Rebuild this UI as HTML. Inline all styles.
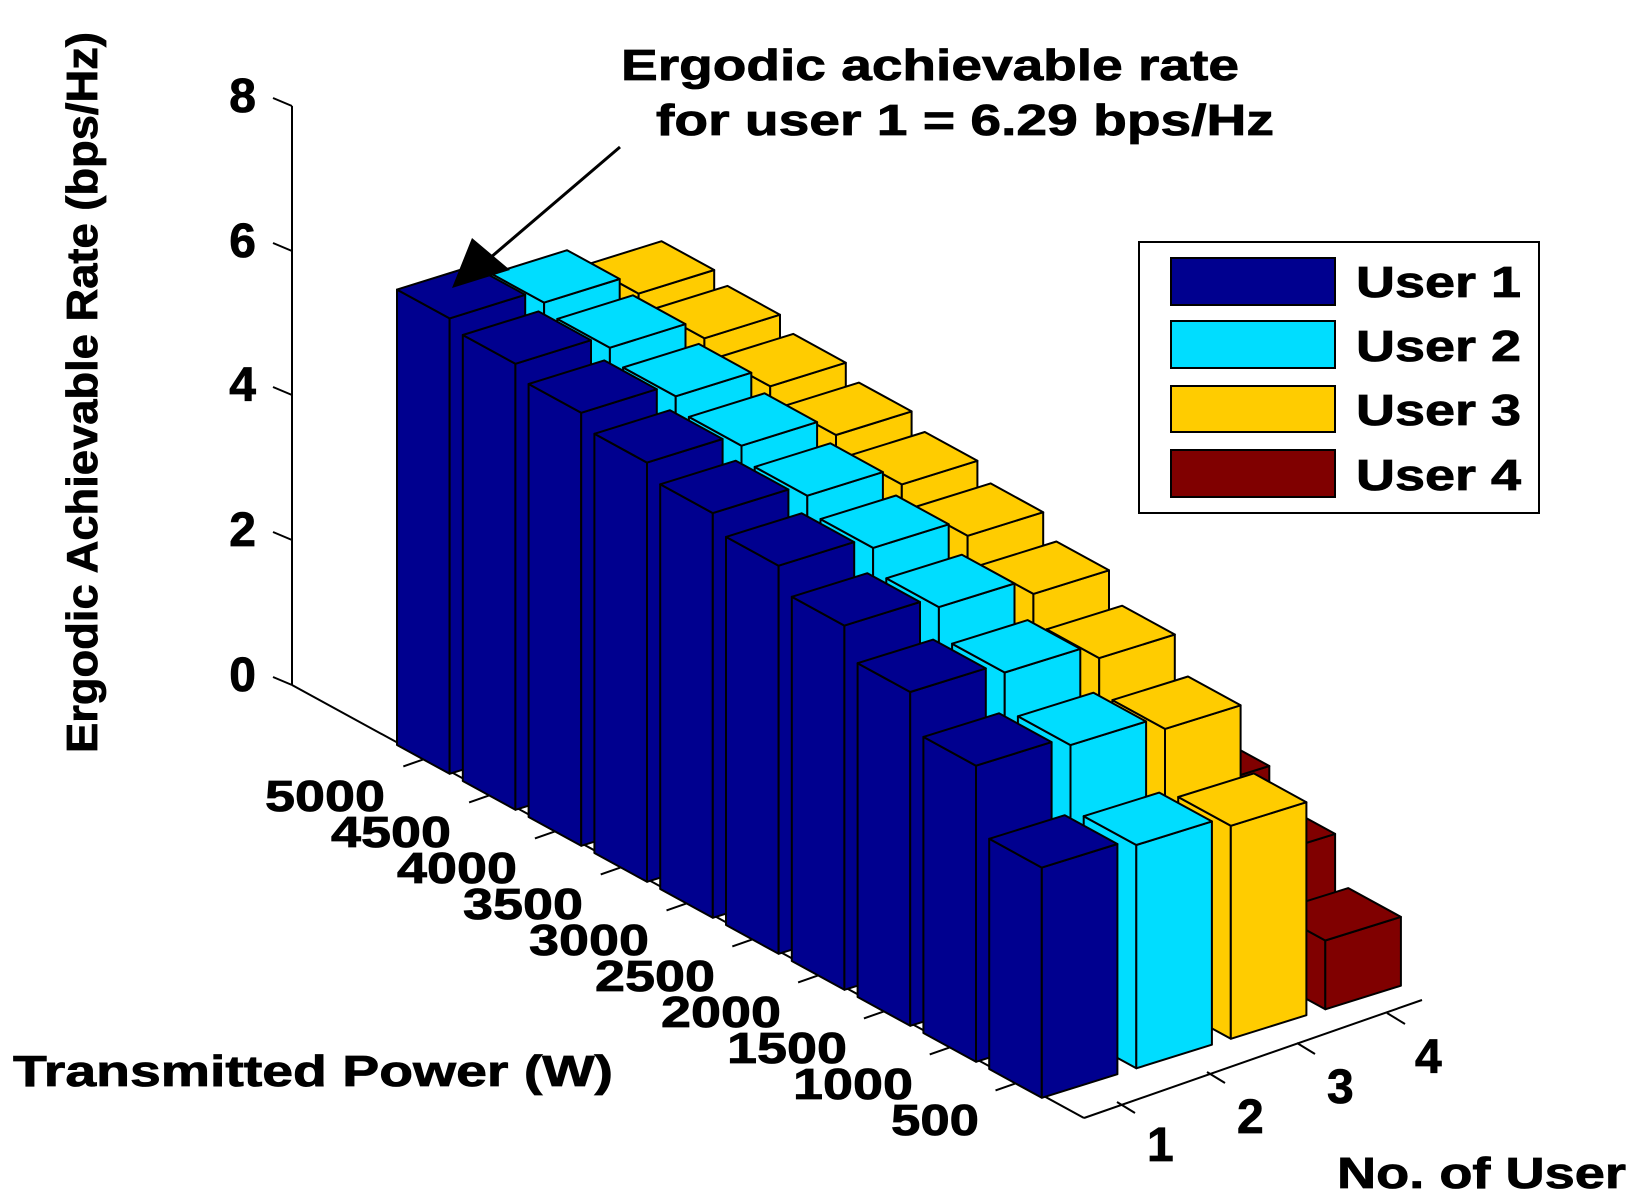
<!DOCTYPE html>
<html><head><meta charset="utf-8"><style>
html,body{margin:0;padding:0;background:#fff;}
svg{display:block;}
text{font-family:"Liberation Sans",Arial,sans-serif;font-weight:bold;fill:#000;stroke:#000;stroke-width:0.8;}
</style></head><body>
<svg id="s" xmlns="http://www.w3.org/2000/svg" width="1642" height="1204" viewBox="0 0 1642 1204">
<rect width="1642" height="1204" fill="#fff"/>
<g stroke="#000" stroke-width="2" fill="none">
<line x1="292" y1="106" x2="292" y2="685"/>
<line x1="292" y1="685" x2="1084" y2="1118"/>
<line x1="1084" y1="1118" x2="1422" y2="1000"/>
<line x1="292" y1="106" x2="273" y2="98"/>
<line x1="292" y1="251" x2="273" y2="243"/>
<line x1="292" y1="395" x2="273" y2="387"/>
<line x1="292" y1="540" x2="273" y2="532"/>
<line x1="292" y1="685" x2="273" y2="677"/>
<line x1="1117" y1="1102" x2="1135" y2="1113"/>
<line x1="1207" y1="1072" x2="1225" y2="1083"/>
<line x1="1297" y1="1043" x2="1315" y2="1054"/>
<line x1="1387" y1="1013" x2="1405" y2="1024"/>
</g>
<g id="pt" stroke="#000" stroke-width="2"></g>
<g id="bars" stroke="#000" stroke-width="2" stroke-linejoin="round"></g>
<g font-size="48" text-anchor="end">
<text x="256" y="112">8</text>
<text x="256" y="257">6</text>
<text x="256" y="401">4</text>
<text x="256" y="546">2</text>
<text x="256" y="691">0</text>
</g>
<g font-size="44" text-anchor="end">
<text x="385" y="811" textLength="120" lengthAdjust="spacingAndGlyphs">5000</text>
<text x="451" y="847" textLength="120" lengthAdjust="spacingAndGlyphs">4500</text>
<text x="517" y="883" textLength="120" lengthAdjust="spacingAndGlyphs">4000</text>
<text x="583" y="919" textLength="120" lengthAdjust="spacingAndGlyphs">3500</text>
<text x="649" y="955" textLength="120" lengthAdjust="spacingAndGlyphs">3000</text>
<text x="715" y="991" textLength="120" lengthAdjust="spacingAndGlyphs">2500</text>
<text x="781" y="1027" textLength="120" lengthAdjust="spacingAndGlyphs">2000</text>
<text x="847" y="1063" textLength="120" lengthAdjust="spacingAndGlyphs">1500</text>
<text x="913" y="1099" textLength="120" lengthAdjust="spacingAndGlyphs">1000</text>
<text x="979" y="1135" textLength="88" lengthAdjust="spacingAndGlyphs">500</text>
</g>
<g font-size="48">
<text x="1147" y="1161">1</text>
<text x="1237" y="1133">2</text>
<text x="1327" y="1103">3</text>
<text x="1415" y="1073">4</text>
</g>
<text x="13" y="1086" font-size="44" textLength="600" lengthAdjust="spacingAndGlyphs">Transmitted Power (W)</text>
<text x="1337" y="1188" font-size="44" textLength="289" lengthAdjust="spacingAndGlyphs">No. of User</text>
<text transform="translate(97,753) rotate(-90)" font-size="44" textLength="721" lengthAdjust="spacingAndGlyphs">Ergodic Achievable Rate (bps/Hz)</text>
<text x="621" y="80" font-size="44" textLength="618" lengthAdjust="spacingAndGlyphs">Ergodic achievable rate</text>
<text x="656" y="135" font-size="44" textLength="618" lengthAdjust="spacingAndGlyphs">for user 1 = 6.29 bps/Hz</text>
<line x1="620" y1="147" x2="490" y2="258" stroke="#000" stroke-width="3"/>
<polygon points="472,238 452,288 510,270" fill="#000"/>
<rect x="1139" y="242" width="400" height="271" fill="#fff" stroke="#000" stroke-width="2"/>
<g stroke="#000" stroke-width="2">
<rect x="1171" y="258" width="164" height="47" fill="#00008F"/>
<rect x="1171" y="321" width="164" height="47" fill="#00DDFF"/>
<rect x="1171" y="386" width="164" height="46" fill="#FFCC00"/>
<rect x="1171" y="450" width="164" height="47" fill="#800000"/>
</g>
<g font-size="44">
<text x="1356" y="297" textLength="165" lengthAdjust="spacingAndGlyphs">User 1</text>
<text x="1356" y="361" textLength="165" lengthAdjust="spacingAndGlyphs">User 2</text>
<text x="1356" y="425" textLength="165" lengthAdjust="spacingAndGlyphs">User 3</text>
<text x="1356" y="490" textLength="165" lengthAdjust="spacingAndGlyphs">User 4</text>
</g>
</svg>
<script>
(function(){
var NS="http://www.w3.org/2000/svg";
function P(p,u,z){return [397+65.8*p+94.5*u, 745+36*p-29.5*u-72.4*z];}
var blue=[6.29,6.16,5.98,5.79,5.59,5.36,5.03,4.61,4.09,3.18];
var H=[blue,blue.map(function(v){return v*0.97;}),blue.map(function(v){return v*0.925;}),
[2.6,2.6,2.55,2.5,2.45,2.35,2.2,2.04,1.6,0.95]];
var C=["#00008F","#00DDFF","#FFCC00","#800000"];
var g=document.getElementById("bars"),pt=document.getElementById("pt");
for(var i=0;i<10;i++){
 var a=P(i+0.4,0,0);
 var l=document.createElementNS(NS,"line");
 l.setAttribute("x1",a[0]);l.setAttribute("y1",a[1]);l.setAttribute("x2",a[0]-20);l.setAttribute("y2",a[1]+7);
 pt.appendChild(l);
}
function poly(pts,col){var e=document.createElementNS(NS,"polygon");
 e.setAttribute("points",pts.map(function(q){return q[0].toFixed(1)+","+q[1].toFixed(1);}).join(" "));
 e.setAttribute("fill",col);g.appendChild(e);}
var w=0.8;
for(var i=0;i<10;i++){for(var j=3;j>=0;j--){
 var h=H[j][i],c=C[j],p=i,u=j;
 poly([P(p,u,0),P(p+w,u,0),P(p+w,u,h),P(p,u,h)],c);
 poly([P(p+w,u,0),P(p+w,u+w,0),P(p+w,u+w,h),P(p+w,u,h)],c);
 poly([P(p,u,h),P(p+w,u,h),P(p+w,u+w,h),P(p,u+w,h)],c);
}}
})();
</script>
</body></html>
